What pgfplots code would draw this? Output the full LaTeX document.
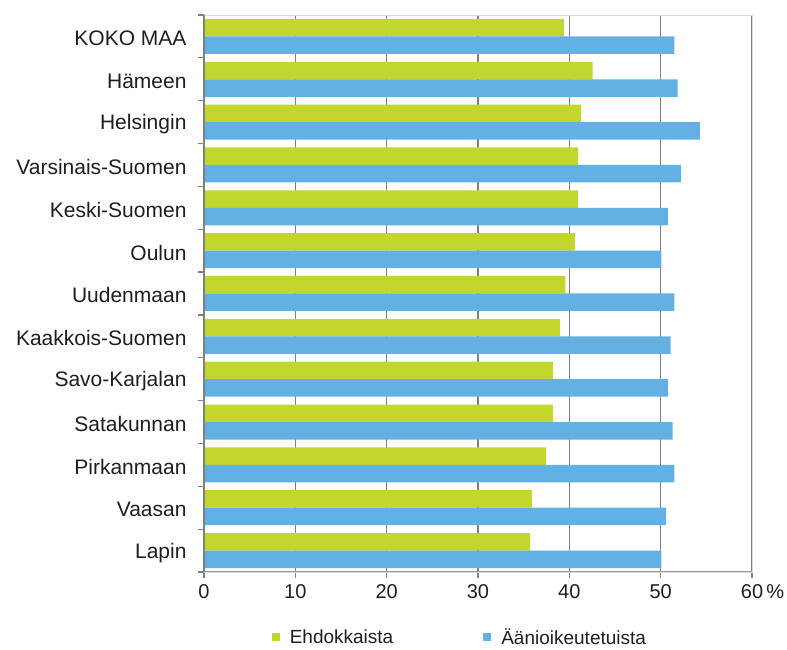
\documentclass[border=0pt]{standalone}
\usepackage{pgfplots}
\pgfplotsset{compat=1.18}
\usepackage{fontspec}
\setmainfont{Liberation Sans}
\definecolor{cgreen}{RGB}{194,214,46}
\definecolor{cblue}{RGB}{99,176,227}
\definecolor{cgrid}{RGB}{128,128,128}
\definecolor{ctext}{RGB}{30,30,30}
\begin{document}
\begin{tikzpicture}[x=1pt,y=1pt]
\path (0,0) rectangle (787,645);
\begin{axis}[
  at={(204pt,73pt)}, anchor=south west,
  scale only axis, width=548pt, height=557pt,
  xmin=0, xmax=60, ymin=-0.5, ymax=12.5,
  xtick={0,10,...,60},
  xticklabels={0,10,20,30,40,50,60\rlap{\,\%}},
  ytick={0,...,12},
  yticklabels={Lapin,Vaasan,Pirkanmaan,Satakunnan,Savo-Karjalan,Kaakkois-Suomen,Uudenmaan,Oulun,Keski-Suomen,Varsinais-Suomen,Helsingin,Hämeen,KOKO MAA},
  minor ytick={-0.5,0.5,...,12.5},
  tick align=outside,
  xtick pos=bottom, ytick pos=left,
  major tick length=6pt, minor tick length=6pt,
  major y tick style={draw=none},
  minor y tick style={draw=gray, line width=1.2pt},
  major x tick style={draw=gray, line width=1.2pt},
  xmajorgrids,
  x grid style={cgrid, line width=1.3pt},
  axis line style={draw=black!15, line width=0.8pt},
  xticklabel style={font=\fontsize{20}{24}\selectfont, text=ctext, yshift=-3pt},
  yticklabel style={font=\fontsize{21}{25}\selectfont, text=ctext, xshift=-8pt, yshift=-2pt},
  legend style={at={(0.467,-0.1165)}, anchor=center, draw=none, fill=none,
    legend columns=2, font=\fontsize{19}{22}\selectfont, text=ctext,
    /tikz/every odd column/.append style={column sep=8pt},
    /tikz/every even column/.append style={column sep=88pt}},
]
\addplot[xbar, bar width=17.5pt, bar shift=8.75pt, fill=cgreen, draw=none,
  legend image code/.code={\fill[cgreen] (0pt,-4pt) rectangle (8pt,4pt);}]
  coordinates {(39.4,12) (42.55,11) (41.3,10) (40.95,9) (40.95,8) (40.6,7) (39.56,6) (39.0,5) (38.2,4) (38.2,3) (37.45,2) (35.9,1) (35.7,0)};
\addlegendentry{Ehdokkaista}
\addplot[xbar, bar width=17.5pt, bar shift=-8.75pt, fill=cblue, draw=none,
  legend image code/.code={\fill[cblue] (0pt,-4pt) rectangle (8pt,4pt);}]
  coordinates {(51.5,12) (51.86,11) (54.3,10) (52.2,9) (50.8,8) (50.07,7) (51.5,6) (51.1,5) (50.8,4) (51.3,3) (51.5,2) (50.6,1) (50.07,0)};
\addlegendentry{Äänioikeutetuista}
\draw[gray, line width=1.2pt] (rel axis cs:0,0) -- (rel axis cs:0,1);
\draw[gray!80, line width=1.2pt] (rel axis cs:0,0) -- (rel axis cs:1,0);
\end{axis}
\end{tikzpicture}
\end{document}
